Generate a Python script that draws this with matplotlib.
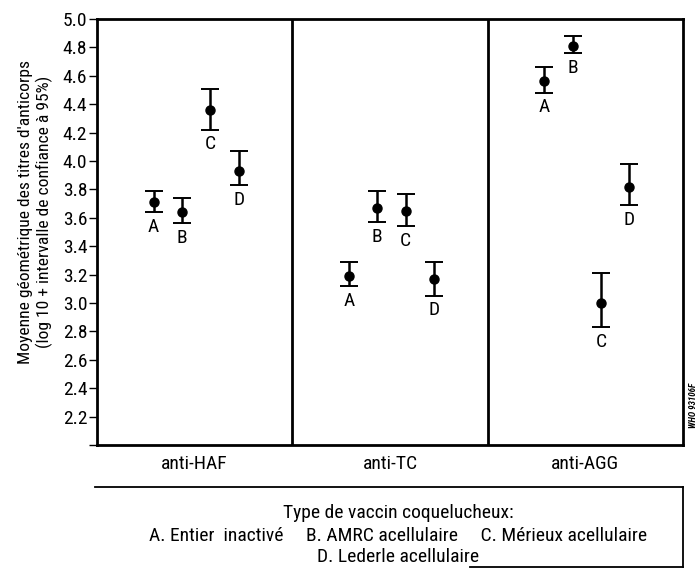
import numpy as np
import matplotlib.pyplot as plt
from matplotlib.lines import Line2D

plt.rcParams['font.family'] = ['Roboto Condensed', 'Liberation Sans Narrow',
                               'Archivo Narrow', 'DejaVu Sans']

W, H = 699, 570                      # figure size in pixels
FS = 14

antigens = ['anti-HAF', 'anti-TC', 'anti-AGG']
vaccines = ['A', 'B', 'C', 'D']

# geometric mean titres (log10) and 95% CI, one list per antigen, in A-D order
haf_mean = [3.71, 3.64, 4.36, 3.93]
haf_low = [3.64, 3.56, 4.22, 3.83]
haf_high = [3.79, 3.74, 4.51, 4.07]

tc_mean = [3.19, 3.67, 3.65, 3.17]
tc_low = [3.12, 3.57, 3.54, 3.05]
tc_high = [3.29, 3.79, 3.77, 3.29]

agg_mean = [4.56, 4.81, 3.00, 3.82]
agg_low = [4.48, 4.76, 2.83, 3.69]
agg_high = [4.66, 4.88, 3.21, 3.98]

yticks = np.round(np.arange(2.0, 5.01, 0.2), 1)
legend_title = 'Type de vaccin coquelucheux:'
legend_lines = ['A. Entier  inactivé     B. AMRC acellulaire     C. Mérieux acellulaire',
                'D. Lederle acellulaire']


def px(x, y):
    # pixel position (from top left) -> figure fraction
    return x / W, 1 - y / H


fig = plt.figure(figsize=(W / 100, H / 100), dpi=100)
ax = fig.add_axes([97 / W, 1 - 445 / H, 586 / W, 426 / H])

offsets = 0.29 + 0.145 * np.arange(4)   # position of A..D inside each panel
groups = [(haf_mean, haf_low, haf_high),
          (tc_mean, tc_low, tc_high),
          (agg_mean, agg_low, agg_high)]

for i, (m, lo, hi) in enumerate(groups):
    m, lo, hi = np.array(m), np.array(lo), np.array(hi)
    x = i + offsets
    ax.errorbar(x, m, yerr=[m - lo, hi - m], fmt='o', color='black',
                ms=6.5, elinewidth=1.8, capsize=6.5, capthick=1.4)
    for xi, l, lab in zip(x, lo, vaccines):
        ax.annotate(lab, (xi, l), xytext=(0, -4), textcoords='offset points',
                    ha='center', va='top', fontsize=FS)

# panel separators
for xd in (1, 2):
    ax.axvline(xd, color='black', lw=2)

ax.set_xlim(0, 3)
ax.set_ylim(2.0, 5.0)
ax.set_yticks(yticks)
ax.set_yticklabels(['' if v == 2.0 else f'{v:.1f}' for v in yticks])
ax.set_xticks([0.5, 1.5, 2.5])
ax.set_xticklabels(antigens)
ax.tick_params(axis='y', length=6, width=1, pad=1, labelsize=FS)
ax.tick_params(axis='x', length=0, pad=7, labelsize=FS)
for sp in ax.spines.values():
    sp.set_linewidth(2)

# y label, two lines
fig.text(*px(26, 212), "Moyenne géométrique des titres d'anticorps",
         rotation=90, ha='center', va='center', fontsize=12.6)
fig.text(*px(44, 212), '(log 10 + intervalle de confiance à 95%)',
         rotation=90, ha='center', va='center', fontsize=12.6)

# figure code on the right edge
fig.text(*px(693, 405), 'WHO 93106F', rotation=90, ha='center', va='center',
         fontsize=6.5, style='italic', weight='bold')

# legend box (left side runs off the picture)
box = dict(color='black', lw=1.3, transform=fig.transFigure)
fig.add_artist(Line2D([95 / W, 683 / W], [1 - 487 / H] * 2, **box))
fig.add_artist(Line2D([683 / W] * 2, [1 - 487 / H, 1 - 567 / H], **box))
fig.add_artist(Line2D([470 / W, 683 / W], [1 - 567 / H] * 2, **box))

fig.text(*px(398, 513), legend_title, ha='center', va='center', fontsize=FS)
fig.text(*px(398, 536), legend_lines[0], ha='center', va='center', fontsize=FS)
fig.text(*px(398, 557), legend_lines[1], ha='center', va='center', fontsize=FS)

fig.savefig('out.png', dpi=100)
